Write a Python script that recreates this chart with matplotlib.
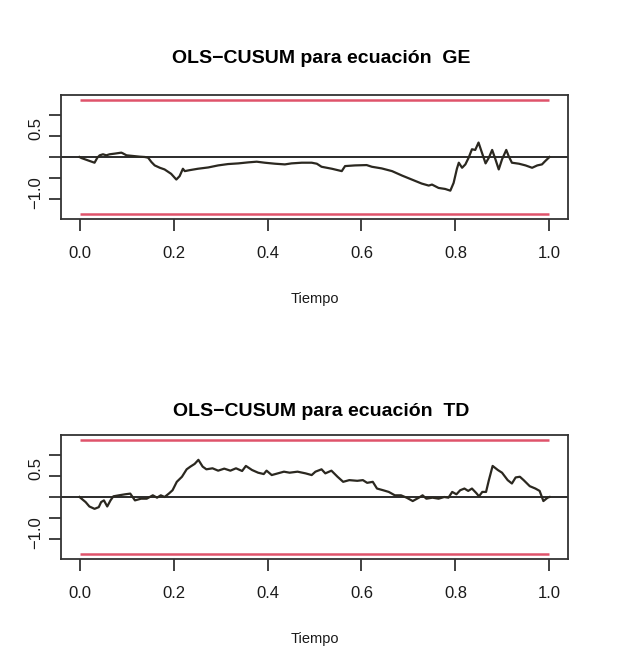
import matplotlib
matplotlib.use("Agg")
import matplotlib.pyplot as plt
import numpy as np

plt.rcParams['font.family'] = ['Liberation Sans', 'DejaVu Sans']

# Empirical fluctuation process, equation GE
t_ge = [0.0, 0.004, 0.018, 0.032, 0.038, 0.043, 0.050, 0.057, 0.064, 0.075,
        0.089, 0.092, 0.100, 0.114, 0.128, 0.139, 0.146, 0.153, 0.160, 0.171,
        0.181, 0.195, 0.206, 0.213, 0.220, 0.224, 0.235, 0.252, 0.274, 0.295,
        0.316, 0.338, 0.359, 0.377, 0.394, 0.416, 0.437, 0.451, 0.473, 0.494,
        0.505, 0.515, 0.537, 0.558, 0.565, 0.586, 0.611, 0.622, 0.643, 0.665,
        0.686, 0.707, 0.728, 0.743, 0.750, 0.764, 0.778, 0.789, 0.796, 0.803,
        0.807, 0.814, 0.821, 0.828, 0.835, 0.842, 0.849, 0.855, 0.864, 0.871,
        0.878, 0.885, 0.892, 0.899, 0.908, 0.913, 0.920, 0.935, 0.949, 0.963,
        0.974, 0.984, 0.991, 1.0]
cusum_ge = [0.0, -0.024, -0.080, -0.135, -0.016, 0.040, 0.064, 0.040, 0.064, 0.080,
            0.103, 0.088, 0.040, 0.024, 0.008, 0.0, -0.016, -0.119, -0.199, -0.255,
            -0.294, -0.398, -0.533, -0.453, -0.278, -0.334, -0.310, -0.278, -0.247, -0.199,
            -0.167, -0.151, -0.127, -0.111, -0.135, -0.159, -0.175, -0.151, -0.135, -0.135,
            -0.159, -0.231, -0.278, -0.334, -0.215, -0.199, -0.191, -0.231, -0.270, -0.334,
            -0.438, -0.533, -0.628, -0.676, -0.652, -0.732, -0.756, -0.796, -0.613, -0.278,
            -0.135, -0.255, -0.175, -0.016, 0.183, 0.167, 0.342, 0.143, -0.151, -0.016,
            0.167, -0.056, -0.294, -0.056, 0.167, 0.024, -0.135, -0.159, -0.199, -0.255,
            -0.199, -0.175, -0.095, 0.0]

# Empirical fluctuation process, equation TD
t_td = [0.0, 0.013, 0.021, 0.032, 0.041, 0.046, 0.052, 0.059, 0.066, 0.072,
        0.084, 0.097, 0.108, 0.118, 0.131, 0.143, 0.156, 0.165, 0.173, 0.181,
        0.190, 0.198, 0.207, 0.218, 0.228, 0.236, 0.245, 0.253, 0.262, 0.270,
        0.283, 0.295, 0.308, 0.321, 0.333, 0.346, 0.354, 0.367, 0.380, 0.392,
        0.398, 0.409, 0.422, 0.435, 0.447, 0.464, 0.481, 0.494, 0.502, 0.515,
        0.523, 0.536, 0.549, 0.561, 0.574, 0.591, 0.603, 0.612, 0.624, 0.633,
        0.646, 0.658, 0.671, 0.684, 0.696, 0.709, 0.722, 0.730, 0.738, 0.751,
        0.764, 0.776, 0.785, 0.793, 0.802, 0.810, 0.819, 0.827, 0.835, 0.844,
        0.850, 0.857, 0.865, 0.871, 0.879, 0.890, 0.899, 0.911, 0.920, 0.928,
        0.937, 0.945, 0.958, 0.970, 0.979, 0.987, 0.996, 1.0]
cusum_td = [0.0, -0.12, -0.224, -0.28, -0.24, -0.12, -0.08, -0.224, -0.08, 0.016,
            0.04, 0.064, 0.08, -0.08, -0.04, -0.04, 0.04, -0.016, 0.04, 0.0,
            0.08, 0.16, 0.359, 0.479, 0.655, 0.719, 0.783, 0.879, 0.719, 0.655,
            0.679, 0.623, 0.671, 0.623, 0.679, 0.615, 0.735, 0.639, 0.575, 0.543,
            0.623, 0.519, 0.559, 0.599, 0.575, 0.599, 0.559, 0.519, 0.599, 0.655,
            0.559, 0.623, 0.479, 0.359, 0.399, 0.383, 0.399, 0.335, 0.359, 0.2,
            0.16, 0.12, 0.04, 0.04, -0.016, -0.096, -0.016, 0.04, -0.04, -0.016,
            -0.04, 0.0, -0.016, 0.12, 0.064, 0.16, 0.2, 0.144, 0.2, 0.096,
            0.016, 0.12, 0.12, 0.399, 0.735, 0.639, 0.575, 0.399, 0.319, 0.463,
            0.479, 0.399, 0.256, 0.2, 0.144, -0.096, -0.016, 0.0]

boundary = 1.358
x_ticks = [0.0, 0.2, 0.4, 0.6, 0.8, 1.0]
x_labels = ["0.0", "0.2", "0.4", "0.6", "0.8", "1.0"]
y_ticks = [-1.0, -0.5, 0.0, 0.5, 1.0]
y_labeled = {-1.0: "\u22121.0", 0.5: "0.5"}

titles = ["OLS\u2212CUSUM para ecuación  GE", "OLS\u2212CUSUM para ecuación  TD"]
series = [(t_ge, cusum_ge), (t_td, cusum_td)]

W, H = 621, 663
fig = plt.figure(figsize=(W / 100, H / 100), dpi=100)

boxes = [(60.7, 95, 568.3, 219), (60.7, 435, 568.3, 559)]
title_pads = [23, 14]
red = "#DF536B"

for (x0, y0, x1, y1), title, tpad, (t, y) in zip(boxes, titles, title_pads, series):
    ax = fig.add_axes([x0 / W, 1 - y1 / H, (x1 - x0) / W, (y1 - y0) / H])
    ax.plot([0, 1], [boundary, boundary], color=red, lw=1.8, solid_capstyle='butt')
    ax.plot([0, 1], [-boundary, -boundary], color=red, lw=1.8, solid_capstyle='butt')
    ax.axhline(0, color="#1a1a1a", lw=1.3)
    ax.plot(t, y, color="#2b2820", lw=1.6)

    span = 2 * boundary
    ax.set_ylim(-boundary - 0.04 * span, boundary + 0.04 * span)
    ax.set_xlim(-0.04, 1.04)

    for s in ax.spines.values():
        s.set_linewidth(1.3)
        s.set_color("#333333")

    ax.set_xticks(x_ticks)
    ax.set_xticklabels(x_labels, fontsize=12, color="#1a1a1a")
    ax.set_yticks(y_ticks)
    ax.set_yticklabels([])
    ax.tick_params(length=8.6, width=1.3, color="#333333")
    ax.tick_params(axis='x', pad=11)
    for v, lab in y_labeled.items():
        ax.annotate(lab, xy=(0, v), xycoords=('axes fraction', 'data'),
                    xytext=(-18, 5), textcoords='offset points',
                    rotation=90, ha='center', va='center', fontsize=12,
                    color="#1a1a1a")

    ax.set_title(title, fontsize=14, fontweight='bold', pad=tpad, x=0.514)
    ax.set_xlabel("Tiempo", fontsize=10.5, labelpad=22, color="#1a1a1a")

fig.savefig("out.png", dpi=100, facecolor="white")
